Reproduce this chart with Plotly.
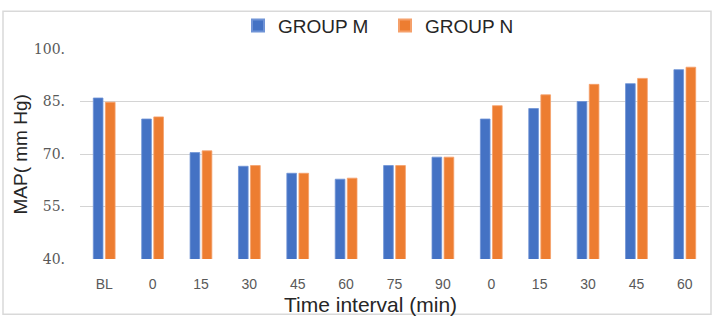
import plotly.graph_objects as go

tick_labels = ["BL", "0", "15", "30", "45", "60", "75", "90", "0", "15", "30", "45", "60"]
group_m = [86.0, 80.0, 70.4, 66.5, 64.5, 62.8, 66.7, 69.1, 80.0, 83.0, 85.0, 90.1, 94.1]
group_n = [84.8, 80.6, 70.9, 66.7, 64.5, 63.1, 66.7, 69.1, 83.8, 86.9, 89.9, 91.6, 94.8]
y_ticks = [40, 55, 70, 85, 100]
y_tick_text = ["40.", "55.", "70.", "85.", "100."]

x_pos = list(range(len(tick_labels)))

W, H = 716, 322
L, R, T, B = 80, 7, 42, 63
pw, ph = W - L - R, H - T - B

def px_x(x):
    return (x - L) / pw

def px_y(y):
    return (H - B - y) / ph

fig = go.Figure()
fig.add_trace(go.Bar(x=x_pos, y=group_m, name="GROUP M",
                     marker=dict(color="#4472C4", line=dict(color="#6f93d6", width=0.8))))
fig.add_trace(go.Bar(x=x_pos, y=group_n, name="GROUP N",
                     marker=dict(color="#ED7D31", line=dict(color="#f5a06a", width=0.8))))

fig.update_layout(
    width=W, height=H,
    margin=dict(l=L, r=R, t=T, b=B),
    paper_bgcolor="white", plot_bgcolor="white",
    barmode="group", bargap=0.5, bargroupgap=0.2,
    font=dict(family="Liberation Sans", color="#595959"),
    legend=dict(orientation="h", x=px_x(385), xanchor="center", y=px_y(18), yanchor="middle",
                font=dict(size=19, color="#262626", family="Liberation Sans"),
                bgcolor="rgba(0,0,0,0)", entrywidth=102, itemsizing="constant"),
    showlegend=True,
)
fig.update_xaxes(
    tickmode="array", tickvals=x_pos, ticktext=tick_labels,
    range=[-0.5, len(tick_labels) - 0.5],
    showgrid=False, showline=False, zeroline=False,
    tickfont=dict(size=14, color="#595959", family="Liberation Sans"),
    ticks="", ticklabelstandoff=15,
)
fig.update_yaxes(
    range=[40, 100], tickmode="array", tickvals=y_ticks, ticktext=y_tick_text,
    showgrid=True, gridcolor="#d4d4d4", gridwidth=1.3, zeroline=False, showline=False,
    tickfont=dict(size=14, color="#595959", family="DejaVu Serif"),
    ticks="", ticklabelstandoff=14,
)
fig.add_annotation(text="MAP( mm Hg)", textangle=-90, xref="paper", yref="paper",
                   x=px_x(20), y=px_y(151), xanchor="center", yanchor="middle",
                   showarrow=False, font=dict(size=19, color="#262626", family="Liberation Sans"))
fig.add_annotation(text="Time interval (min)", xref="paper", yref="paper",
                   x=px_x(370), y=px_y(306), xanchor="center", yanchor="middle",
                   showarrow=False, font=dict(size=21, color="#262626", family="Liberation Sans"))
fig.add_shape(type="rect", xref="paper", yref="paper",
              x0=px_x(3), x1=px_x(711), y0=px_y(316), y1=px_y(3),
              line=dict(color="#d9d9d9", width=1.5), fillcolor="rgba(0,0,0,0)", layer="below")

fig.write_html("out.html")
